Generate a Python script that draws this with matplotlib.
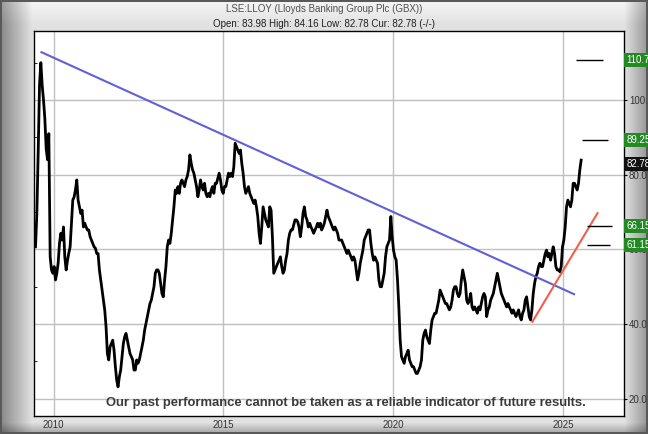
import numpy as np
import matplotlib.pyplot as plt
from matplotlib import transforms
from matplotlib.ticker import MultipleLocator

# price samples, about one every two weeks, from mid 2009
start_year = 2009.466
step_year = 0.0392
price = [
    60.7, 69.6, 86, 104, 110, 104, 100, 95, 87, 84, 91, 58, 54.5, 53.6, 55.4, 51.8,
    53.6, 56.3, 61.6, 64.3, 62.5, 66, 58, 54.5, 57, 59, 60.7, 67, 73.2, 74, 75.9, 78.6,
    73.2, 71.4, 69.6, 70.5, 66, 67, 66, 65.2, 65.2, 63.4, 62.5, 61.6, 60.7, 60.3, 58.9, 58.9,
    54.5, 51.8, 49.1, 46.4, 43.8, 39.3, 32.1, 30.4, 33.9, 34.8, 35.7, 33, 28.6, 25, 23.2, 25.9,
    27.7, 31.3, 34.8, 36.6, 37.5, 35.7, 33.9,
    # 2012 - 2014
    32.1, 31.3, 30.4, 27.7, 27.7, 30.4, 29.5, 30.4, 32.1, 33.9, 35.7, 38.4, 40.2, 42, 43.8, 45.5,
    46.4, 48.2, 50, 53.6, 54.5, 54.5, 53.6, 50.9, 48.2, 47.3, 51.8, 55.4, 60.7, 62.5, 61.6, 64.3,
    67.9, 71.4, 75.9, 75, 76.8, 75, 77.7, 78.6, 77.7, 76.8, 78.6, 79.5, 81.3, 85.3, 83, 81.3,
    80.4, 78.6, 76.8, 74.1, 75.9, 78.6, 76.8, 75.9, 77.7, 75, 74.1, 75, 74.1, 75.9, 76.8, 75,
    77.7, 77.7, 79, 80.4, 78.6, 75.9, 75, 76.8,
    # 2015 - 2017
    76.8, 78.6, 80.4, 79.5, 80.4, 79.5, 82.1, 88.4, 87.5, 86.6, 85.7, 86.6, 83, 80.4, 76.8, 75,
    75.9, 76.8, 75, 74.1, 73.2, 72.3, 73.2, 71.4, 68.8, 64.3, 61.6, 66, 71.4, 69.6, 67.9, 67,
    66, 71.4, 70.5, 63.4, 53.6, 54.5, 55.4, 56.3, 57.1, 58, 55.4, 53.6, 54.5, 57.1, 58.9, 62.5,
    64.3, 65.2, 65.2, 66.5, 67.9, 67.9, 67.4, 66, 63.4, 66, 69.6, 71.4, 68.8, 67.9, 66, 67,
    66, 65.2, 64.3, 65.2, 66, 67, 66, 67,
    # 2018 - 2020
    65.2, 66, 67, 68.8, 70.5, 68.8, 67.9, 67, 66, 65.2, 66, 65.2, 64.3, 62.5, 62.5, 62.5,
    61.6, 60.7, 59.8, 58.9, 59.8, 58.9, 58, 57.1, 58, 57.1, 54.5, 51.8, 53.6, 56.3, 58, 59.8,
    62.5, 63.4, 64.3, 65.2, 65.2, 61.6, 58.9, 57.1, 58, 57.1, 56.3, 51.8, 50, 50, 51.8, 53.6,
    58, 60.7, 61.6, 62.5, 68.8, 63.4, 59.8, 58, 57.1, 51.8, 44.6, 35.7, 31.3, 30.4, 29.5, 31.3,
    32.1, 33, 30.4, 29.5, 28.6, 28.6, 27.7, 26.8,
    # 2020 - 2023
    26.8, 27.7, 28.6, 30.4, 35.7, 37.5, 38.4, 36.6, 35.7, 34.8, 38.4, 41.1, 42, 42.9, 42.9, 44.6,
    46.4, 49.1, 48.2, 47.3, 46.4, 45.5, 45.5, 44.6, 43.8, 44.6, 46.4, 49.1, 50, 50, 48.2, 47.3,
    48.2, 51.8, 54.5, 52.7, 50.9, 46.4, 45.5, 46.4, 48.2, 44.6, 43.8, 44.6, 43.8, 42.9, 44.6, 43.8,
    45.5, 47.3, 48.2, 47.3, 42, 43.8, 44.6, 46.4, 47.3, 48.2, 50, 51.8, 53.6, 51.8, 50, 48.2,
    47.3, 46.4, 45.5, 44.6, 45.5, 44.6, 43.8, 42.9,
    # 2023 - 2025
    43.8, 42.9, 42, 42.9, 43.8, 42, 41.1, 42.9, 43.8, 46.4, 47.3, 44.6, 42, 41.1, 43.8, 48.2,
    50.9, 52.7, 53.6, 55.4, 56.3, 55.4, 55.4, 57.1, 58.9, 59.8, 58, 58.9, 57.1, 58.9, 60.7, 58.9,
    55.4, 54.5, 54.5, 54, 55.4, 60.7, 62.5, 66, 71.4, 73.2, 72.3, 71.4, 73.2, 77.7, 77.7, 76.8,
    75.9, 77.7, 81.3, 83.9,
]

# trend lines drawn on the chart (decimal year, price)
blue_x = [2009.64, 2025.33]
blue_y = [112.8, 48.0]
red_x = [2024.10, 2026.02]
red_y = [40.6, 69.7]

# target levels and their short marker lines
targets = [110.7, 89.25, 66.15, 61.15]
target_x0 = [2025.38, 2025.55, 2025.72, 2025.72]
target_x1 = [2026.17, 2026.33, 2026.46, 2026.39]
target_labels = ["110.70", "89.25", "66.15", "61.15"]
current = 82.78

years = [2010, 2015, 2020, 2025]
levels = [20, 40, 60, 80, 100]

plt.rcParams['font.family'] = ['Liberation Sans', 'DejaVu Sans']

W, H = 648, 434
fig = plt.figure(figsize=(W / 100, H / 100), dpi=100)

# bevelled grey frame
xx = np.arange(W)[None, :]
yy = np.arange(H)[:, None]
img = np.full((H, W), 0.88)
img = img * (0.6 + 0.4 * np.clip(xx / 32.0, 0, 1))
img = img * (1.0 - 0.35 * np.clip((xx - 624) / 24.0, 0, 1))
img = img * (1.0 - 0.3 * np.clip((yy - 422) / 12.0, 0, 1))
img = np.minimum(img + 0.08 * np.clip(1 - yy / 25.0, 0, 1), 1)
img[:2, :] = 0.35
img[-2:, :] = 0.35
img[:, :2] = 0.35
img[:, -2:] = 0.35
bg = fig.add_axes([0, 0, 1, 1], zorder=-10)
bg.imshow(img, cmap='gray', vmin=0, vmax=1, aspect='auto', extent=[0, 1, 0, 1])
bg.axis('off')

ax = fig.add_axes([34.3 / W, 18 / H, 589.7 / W, 385 / H])
ax.set_facecolor('white')
ax.set_xlim(2009.43, 2026.80)
ax.set_ylim(15.39, 118.47)

ax.set_xticks(years)
ax.set_yticks(levels)
ax.yaxis.set_minor_locator(MultipleLocator(10))
ax.grid(True, which='major', color='#c0c0c0', lw=1)
ax.set_axisbelow(True)
for s in ax.spines.values():
    s.set_color('black')
    s.set_linewidth(1)

ax.yaxis.tick_right()
ax.yaxis.set_major_formatter(plt.FormatStrFormatter('%.1f'))
ax.tick_params(axis='y', length=2, pad=1.5, labelsize=7, labelcolor='#333333')
ax.tick_params(axis='y', which='minor', left=True, right=False, direction='in', length=2)
ax.tick_params(axis='x', length=0, pad=3, labelsize=7, labelcolor='#333333')

dates = start_year + step_year * np.arange(len(price))
ax.plot(dates, price, color='black', lw=2.0, zorder=3)

ax.plot(blue_x, blue_y, color='#6060d8', lw=1.5, zorder=4)
ax.plot(red_x, red_y, color='#f0604a', lw=1.5, zorder=4)
ax.hlines(targets, target_x0, target_x1, color='black', lw=1, zorder=4)

trans = transforms.blended_transform_factory(ax.transAxes, ax.transData)
for val, lab in zip(targets, target_labels):
    ax.text(1.004, val, lab, transform=trans, color='white', fontsize=7,
            va='center', ha='left', clip_on=False, zorder=10,
            bbox=dict(boxstyle='square,pad=0.2', fc='#238a23', ec='none'))
ax.text(1.004, current, f"{current:.2f}", transform=trans, color='white', fontsize=7,
        va='center', ha='left', clip_on=False, zorder=10,
        bbox=dict(boxstyle='square,pad=0.2', fc='#111111', ec='none'))

ax.text(0.5286, 0.035, "Our past performance cannot be taken as a reliable indicator of future results.",
        transform=ax.transAxes, ha='center', va='center', fontsize=9.4, fontweight='bold',
        color='#3a3a3a', zorder=6)

fig.text(0.5, 1 - 9 / H, "LSE:LLOY (Lloyds Banking Group Plc (GBX))", ha='center', va='center',
         fontsize=7, color='#505050')
fig.text(0.5, 1 - 24 / H, "Open: 83.98 High: 84.16 Low: 82.78 Cur: 82.78 (-/-)", ha='center',
         va='center', fontsize=7, color='#202020')

fig.savefig('out.png', dpi=100)
